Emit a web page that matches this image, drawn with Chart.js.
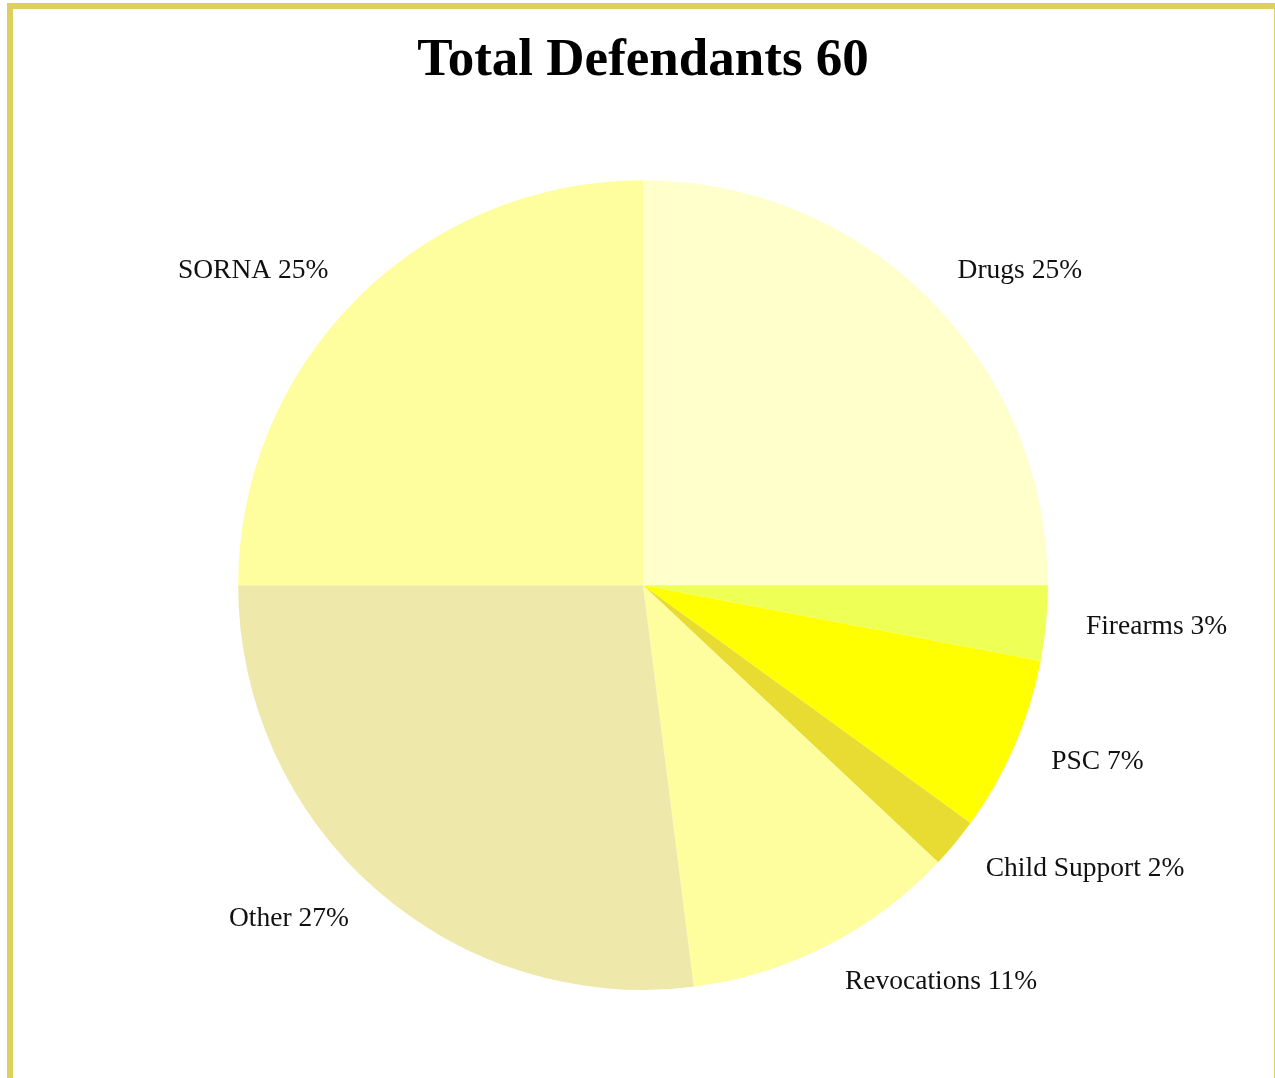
<!DOCTYPE html>
<html>
<head>
<meta charset="utf-8">
<script src="https://cdn.jsdelivr.net/npm/chart.js@4"></script>
<style>
  html, body { margin: 0; padding: 0; background: #fff; overflow: hidden; }
  #frame {
    position: absolute;
    left: 7px;
    top: 3px;
    width: 1261px;
    height: 1100px;
    border: 6px solid #dfcf5e;
    border-right-width: 1px;
    background: #fff;
  }
  #chartBox { position: absolute; left: 0; top: 0; width: 1260px; height: 1069px; }
</style>
</head>
<body>
<div id="frame">
  <div id="chartBox"><canvas id="defendantsChart"></canvas></div>
</div>
<script>
const categories = ['Drugs', 'Firearms', 'PSC', 'Child Support', 'Revocations', 'Other', 'SORNA'];
const percentages = [25, 3, 7, 2, 11, 27, 25];
const sliceColors = ['#ffffcc', '#eeff55', '#ffff00', '#e8dc32', '#fefe9e', '#eee8aa', '#fefe9e'];
const totalDefendants = 60;

// draws "Name NN%" just outside each slice, aligned away from the centre
const outsideLabels = {
  id: 'outsideLabels',
  afterDatasetsDraw(chart) {
    const ctx = chart.ctx;
    const meta = chart.getDatasetMeta(0);
    ctx.save();
    ctx.font = '27.5px "Liberation Serif", "DejaVu Serif", serif';
    ctx.fillStyle = '#111';
    ctx.textBaseline = 'middle';
    meta.data.forEach((arc, i) => {
      const mid = (arc.startAngle + arc.endAngle) / 2;
      const dist = arc.outerRadius + 40;
      const x = arc.x + Math.cos(mid) * dist;
      const y = arc.y + Math.sin(mid) * dist;
      ctx.textAlign = Math.cos(mid) >= 0 ? 'left' : 'right';
      ctx.fillText(categories[i] + ' ' + percentages[i] + '%', x, y);
    });
    ctx.restore();
  }
};

const ctx = document.getElementById('defendantsChart').getContext('2d');
new Chart(ctx, {
  type: 'pie',
  data: {
    labels: categories,
    datasets: [{
      data: percentages,
      backgroundColor: sliceColors,
      borderWidth: 0
    }]
  },
  options: {
    responsive: true,
    maintainAspectRatio: false,
    animation: false,
    layout: { padding: { bottom: 88 } },
    plugins: {
      legend: { display: false },
      tooltip: { enabled: false },
      title: {
        display: true,
        text: 'Total Defendants ' + totalDefendants,
        color: '#000',
        font: { family: '"Liberation Serif", "DejaVu Serif", serif', size: 53, weight: 'bold', lineHeight: 1.1 },
        padding: { top: 23, bottom: 90 }
      }
    }
  },
  plugins: [outsideLabels]
});
</script>
</body>
</html>
